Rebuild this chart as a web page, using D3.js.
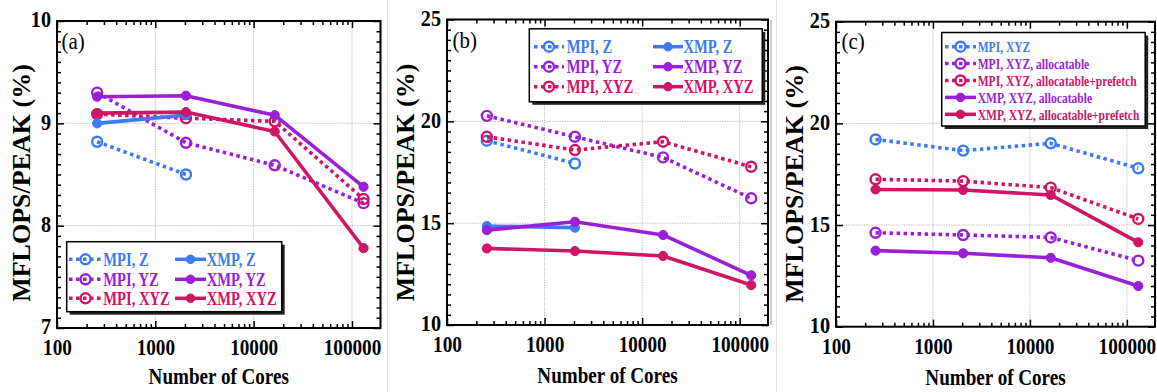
<!DOCTYPE html>
<html><head><meta charset="utf-8">
<script src="https://cdn.jsdelivr.net/npm/d3@7"></script>
<style>
body{margin:0;background:#fff}
svg{display:block}
</style>
</head><body>
<svg id="chart" width="1157" height="392" font-family="Liberation Serif"></svg>
<script>
// ---------- data ----------
const cores = [256, 2048, 16384, 131072];
const xTickValues = [100, 1000, 10000, 100000];
const xTickLabels = ["100", "1000", "10000", "100000"];
const yTicksA = [7, 8, 9, 10];
const yTicksBC = [10, 15, 20, 25];

// panel (a)
const aMpiZ   = [8.82, 8.50];
const aXmpZ   = [9.00, 9.08];
const aMpiYZ  = [9.30, 8.81, 8.59, 8.22];
const aXmpYZ  = [9.26, 9.27, 9.08, 8.38];
const aMpiXYZ = [9.09, 9.05, 9.02, 8.26];
const aXmpXYZ = [9.10, 9.11, 8.92, 7.78];
// panel (b)
const bMpiZ   = [19.05, 17.93];
const bXmpZ   = [14.86, 14.78];
const bMpiYZ  = [20.27, 19.24, 18.23, 16.22];
const bXmpYZ  = [14.66, 15.07, 14.42, 12.44];
const bMpiXYZ = [19.24, 18.59, 19.00, 17.77];
const bXmpXYZ = [13.76, 13.63, 13.39, 11.96];
// panel (c)
const cMpiXYZ      = [19.21, 18.66, 19.02, 17.79];
const cMpiAlloc    = [14.62, 14.51, 14.39, 13.25];
const cMpiPrefetch = [17.25, 17.16, 16.84, 15.30];
const cXmpAlloc    = [13.74, 13.61, 13.39, 12.00];
const cXmpPrefetch = [16.75, 16.72, 16.48, 14.15];

const namesAB = ["MPI, Z", "MPI, YZ", "MPI, XYZ", "XMP, Z", "XMP, YZ", "XMP, XYZ"];
const namesC = ["MPI, XYZ", "MPI, XYZ, allocatable", "MPI, XYZ, allocatable+prefetch",
                "XMP, XYZ, allocatable", "XMP, XYZ, allocatable+prefetch"];
const yTitle = "MFLOPS/PEAK (%)";
const xTitle = "Number of Cores";

// ---------- style ----------
const FONT = "Liberation Serif";
const BLUE = "#3b7cf5", PURPLE = "#9a1fd6", CRIMSON = "#cf1566";
const svg = d3.select("#chart");

// faint panel separators
[[387.5, 0, 392, "#e2e2e2"], [771, 20, 325, "#999"], [776.5, 0, 392, "#e2e2e2"]].forEach(s => {
  svg.append("line").attr("x1", s[0]).attr("x2", s[0]).attr("y1", s[1]).attr("y2", s[2])
    .attr("stroke", s[3]).attr("stroke-width", 1);
});

function drawPanel(p) {
  const g = svg.append("g");
  const x = d3.scaleLog().domain([100, 195000]).range([p.x0, p.x1]);
  const y = d3.scaleLinear().domain(p.yDom).range([p.y1, p.y0]);

  // grid
  g.selectAll(".gx").data(xTickValues.slice(1)).join("line")
    .attr("x1", d => x(d)).attr("x2", d => x(d)).attr("y1", p.y0).attr("y2", p.y1)
    .attr("stroke", "#c4c4c4").attr("stroke-width", 1).attr("stroke-dasharray", "1.5,1");
  g.selectAll(".gy").data(p.yTicks.slice(1, -1)).join("line")
    .attr("y1", d => y(d)).attr("y2", d => y(d)).attr("x1", p.x0).attr("x2", p.x1)
    .attr("stroke", "#c4c4c4").attr("stroke-width", 1).attr("stroke-dasharray", "1.5,1");

  // minor tick values
  const minorX = [];
  xTickValues.forEach(dec => { for (let k = 2; k <= 9; k++) { const v = k * dec; if (v < 195000) minorX.push(v); } });
  const minorY = d3.range(p.yDom[0], p.yDom[1] + 1e-9, p.yMinor).filter(v => !p.yTicks.some(t => Math.abs(t - v) < 1e-6));

  const axisStyle = sel => { sel.attr("font-size", null).attr("font-family", FONT); sel.select(".domain").remove(); sel.selectAll("line").attr("stroke", "#000").attr("stroke-width", 1.5); };

  // bottom
  const bx = g.append("g").attr("transform", `translate(0,${p.y1})`)
    .call(d3.axisBottom(x).tickValues(xTickValues).tickSize(-7).tickSizeOuter(0).tickFormat((d, i) => xTickLabels[i]));
  axisStyle(bx);
  bx.selectAll("text").attr("y", 27.5).attr("dy", 0).attr("transform", "scale(0.8,1)")
    .attr("font-family", FONT).attr("font-size", 24).attr("font-weight", "bold").attr("fill", "#000");
  const bxm = g.append("g").attr("transform", `translate(0,${p.y1})`)
    .call(d3.axisBottom(x).tickValues(minorX).tickSize(-4).tickSizeOuter(0).tickFormat(""));
  axisStyle(bxm);
  // top
  const tx = g.append("g").attr("transform", `translate(0,${p.y0})`)
    .call(d3.axisTop(x).tickValues(xTickValues).tickSize(-7).tickSizeOuter(0).tickFormat(""));
  axisStyle(tx);
  const txm = g.append("g").attr("transform", `translate(0,${p.y0})`)
    .call(d3.axisTop(x).tickValues(minorX).tickSize(-4).tickSizeOuter(0).tickFormat(""));
  axisStyle(txm);
  // left
  const ly = g.append("g").attr("transform", `translate(${p.x0},0)`)
    .call(d3.axisLeft(y).tickValues(p.yTicks).tickSize(-7).tickSizeOuter(0).tickFormat(d3.format("d")));
  axisStyle(ly);
  ly.selectAll("text").attr("x", -6 / 0.88).attr("dy", "0.26em").attr("transform", "scale(0.88,1)")
    .attr("font-family", FONT).attr("font-size", 23).attr("font-weight", "bold").attr("fill", "#000");
  const lym = g.append("g").attr("transform", `translate(${p.x0},0)`)
    .call(d3.axisLeft(y).tickValues(minorY).tickSize(-4).tickSizeOuter(0).tickFormat(""));
  axisStyle(lym);
  // right
  const ry = g.append("g").attr("transform", `translate(${p.x1},0)`)
    .call(d3.axisRight(y).tickValues(p.yTicks).tickSize(-7).tickSizeOuter(0).tickFormat(""));
  axisStyle(ry);
  const rym = g.append("g").attr("transform", `translate(${p.x1},0)`)
    .call(d3.axisRight(y).tickValues(minorY).tickSize(-4).tickSizeOuter(0).tickFormat(""));
  axisStyle(rym);

  // frame
  g.append("rect").attr("x", p.x0).attr("y", p.y0).attr("width", p.x1 - p.x0).attr("height", p.y1 - p.y0)
    .attr("fill", "none").attr("stroke", "#000").attr("stroke-width", 2);

  // series
  const line = d3.line().x((d, i) => x(cores[i])).y(d => y(d));
  p.series.forEach(s => {
    g.append("path").attr("d", line(s.values)).attr("fill", "none").attr("stroke", s.color)
      .attr("stroke-width", 3.6).attr("stroke-dasharray", s.mpi ? "3.5,3.5" : null)
      .attr("stroke-linejoin", "round");
    g.selectAll(null).data(s.values).join("circle")
      .attr("cx", (d, i) => x(cores[i])).attr("cy", d => y(d))
      .attr("r", s.mpi ? 5 : 4.6)
      .attr("fill", s.mpi ? "none" : s.color)
      .attr("stroke", s.color).attr("stroke-width", s.mpi ? 2.4 : 1);
  });

  // panel label
  g.append("text").attr("transform", `translate(${p.lab[0]},${p.lab[1]}) scale(0.87,1)`)
    .attr("font-family", FONT).attr("font-size", 24).text(p.label);

  // axis titles
  g.append("text").attr("transform", `translate(${p.ytx},${p.yty}) rotate(-90)`)
    .attr("font-family", FONT)
    .attr("text-anchor", "middle").attr("font-size", 26).attr("font-weight", "bold").text(yTitle);
  g.append("text").attr("transform", `translate(${(p.x0 + p.x1) / 2},${p.xty}) scale(0.83,1)`)
    .attr("font-family", FONT)
    .attr("text-anchor", "middle").attr("font-size", 23).attr("font-weight", "bold").text(xTitle);

  // legend
  const L = p.legend;
  g.append("rect").attr("x", L.x + 3).attr("y", L.y + 3).attr("width", L.w).attr("height", L.h).attr("fill", "#222");
  g.append("rect").attr("x", L.x).attr("y", L.y).attr("width", L.w).attr("height", L.h)
    .attr("fill", "#fff").attr("stroke", "#000").attr("stroke-width", 1.5);
  L.items.forEach(it => {
    const s = it.s;
    g.append("line").attr("x1", it.lx0).attr("x2", it.lx1).attr("y1", it.y).attr("y2", it.y)
      .attr("stroke", s.color).attr("stroke-width", 3.5).attr("stroke-dasharray", s.mpi ? "3.5,3.5" : null);
    g.append("circle").attr("cx", (it.lx0 + it.lx1) / 2).attr("cy", it.y).attr("r", s.mpi ? 5 : 4.3)
      .attr("fill", s.mpi ? "none" : s.color).attr("stroke", s.color).attr("stroke-width", s.mpi ? 2.4 : 1);
    g.append("text").attr("transform", `translate(${it.tx},${it.y}) scale(0.77,1)`)
      .attr("font-family", FONT)
      .attr("dy", "0.35em").attr("font-size", L.fs).attr("font-weight", "bold").attr("fill", s.color)
      .text(s.name);
  });
}

// ---------- panel (a) ----------
const sA = [
  {name: namesAB[0], values: aMpiZ, color: BLUE, mpi: true},
  {name: namesAB[1], values: aMpiYZ, color: PURPLE, mpi: true},
  {name: namesAB[2], values: aMpiXYZ, color: CRIMSON, mpi: true},
  {name: namesAB[3], values: aXmpZ, color: BLUE, mpi: false},
  {name: namesAB[4], values: aXmpYZ, color: PURPLE, mpi: false},
  {name: namesAB[5], values: aXmpXYZ, color: CRIMSON, mpi: false}
];
drawPanel({
  x0: 57, x1: 380.5, y0: 21, y1: 328, yDom: [7, 10], yTicks: yTicksA, yMinor: 0.1,
  series: sA, label: "(a)", lab: [61.5, 48.5], ytx: 30, yty: 183, xty: 384,
  legend: {x: 66.7, y: 241.7, w: 215, h: 70, fs: 19, items: [
    {s: sA[0], y: 259.3, lx0: 69, lx1: 102, tx: 103.3},
    {s: sA[1], y: 279.3, lx0: 69, lx1: 102, tx: 103.3},
    {s: sA[2], y: 298.3, lx0: 69, lx1: 102, tx: 103.3},
    {s: sA[3], y: 259.3, lx0: 175, lx1: 206, tx: 206.7},
    {s: sA[4], y: 279.3, lx0: 175, lx1: 206, tx: 206.7},
    {s: sA[5], y: 298.3, lx0: 175, lx1: 206, tx: 206.7}
  ]}
});

// ---------- panel (b) ----------
const sB = [
  {name: namesAB[0], values: bMpiZ, color: BLUE, mpi: true},
  {name: namesAB[1], values: bMpiYZ, color: PURPLE, mpi: true},
  {name: namesAB[2], values: bMpiXYZ, color: CRIMSON, mpi: true},
  {name: namesAB[3], values: bXmpZ, color: BLUE, mpi: false},
  {name: namesAB[4], values: bXmpYZ, color: PURPLE, mpi: false},
  {name: namesAB[5], values: bXmpXYZ, color: CRIMSON, mpi: false}
];
drawPanel({
  x0: 447, x1: 768, y0: 19.5, y1: 325, yDom: [10, 25], yTicks: yTicksBC, yMinor: 0.5,
  series: sB, label: "(b)", lab: [452.5, 47.5], ytx: 413.5, yty: 182.5, xty: 383,
  legend: {x: 529.3, y: 28.8, w: 233, h: 73, fs: 19, items: [
    {s: sB[0], y: 46.7, lx0: 534, lx1: 564, tx: 566.7},
    {s: sB[1], y: 66.7, lx0: 534, lx1: 564, tx: 566.7},
    {s: sB[2], y: 86.7, lx0: 534, lx1: 564, tx: 566.7},
    {s: sB[3], y: 46.7, lx0: 653, lx1: 683, tx: 683.5},
    {s: sB[4], y: 66.7, lx0: 653, lx1: 683, tx: 683.5},
    {s: sB[5], y: 86.7, lx0: 653, lx1: 683, tx: 683.5}
  ]}
});

// ---------- panel (c) ----------
const sC = [
  {name: namesC[0], values: cMpiXYZ, color: BLUE, mpi: true},
  {name: namesC[1], values: cMpiAlloc, color: PURPLE, mpi: true},
  {name: namesC[2], values: cMpiPrefetch, color: CRIMSON, mpi: true},
  {name: namesC[3], values: cXmpAlloc, color: PURPLE, mpi: false},
  {name: namesC[4], values: cXmpPrefetch, color: CRIMSON, mpi: false}
];
drawPanel({
  x0: 836, x1: 1155, y0: 21.7, y1: 326.7, yDom: [10, 25], yTicks: yTicksBC, yMinor: 0.5,
  series: sC, label: "(c)", lab: [841.5, 49], ytx: 803, yty: 184, xty: 385,
  legend: {x: 941.7, y: 32.5, w: 203.5, h: 93.5, fs: 15, items: sC.map((s, i) => (
    {s: s, y: 46.7 + i * 16.9, lx0: 945, lx1: 976, tx: 977.7}))}
});
</script>
</body></html>
